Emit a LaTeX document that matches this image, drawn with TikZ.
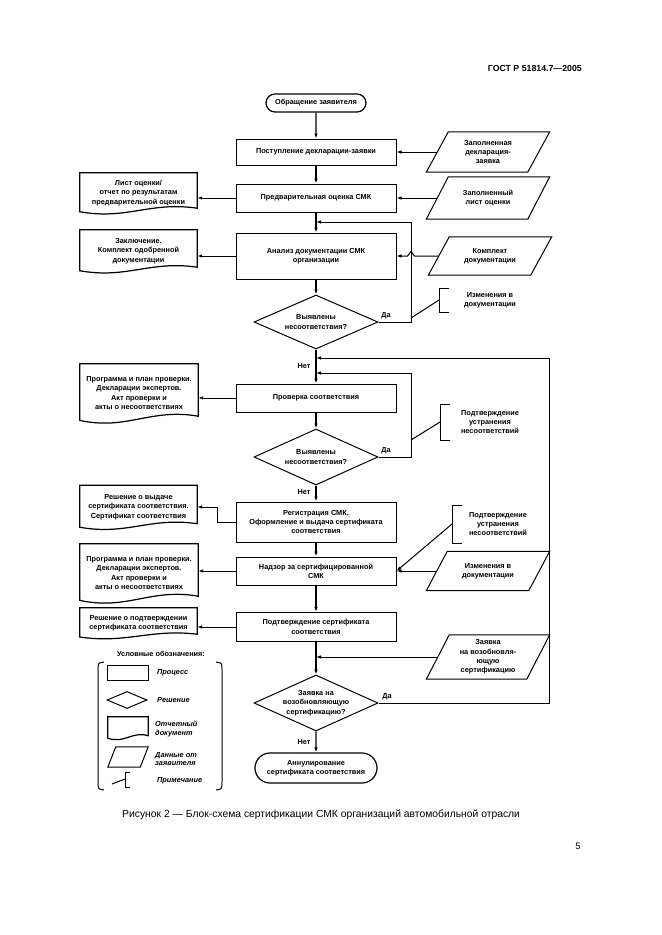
\documentclass[tikz,border=0pt]{standalone}
\usepackage{fontspec}
\setmainfont{Liberation Sans}
\usetikzlibrary{shapes.geometric,shapes.misc,arrows.meta,calc}
\newdimen\px \px=0.9006pt
\newcommand\docout[2]{\draw[docln] (#1.north west) -- (#1.north east) -- ($(#1.south east)+(0,-#2)$) .. controls ($(#1.south west)!0.6!(#1.south east)+(0,-2.4*#2)$) and ($(#1.south west)!0.4!(#1.south east)+(0,1.4*#2)$) .. ($(#1.south west)+(0,-0.3*#2)$) -- cycle;}
\newcommand\datout[2]{\draw[ln] (#1.south west) -- ($(#1.north west)+(#2,0)$) -- (#1.north east) -- ($(#1.south east)+(-#2,0)$) -- cycle;}
\begin{document}
\begin{tikzpicture}[x=0.9006pt,y=-0.9006pt,
 txt/.style={font=\fontsize{6.6}{8.4}\selectfont\bfseries, align=center, inner sep=0pt},
 ln/.style={line width=0.9pt},
 arr/.style={ln,-{Latex[length=4.5pt,width=3.2pt]}},
 mainarr/.style={arr,line width=1.2pt},
 proc/.style={txt,draw,ln,minimum width=160\px},
 term/.style={txt,draw,line width=1.1pt,rounded rectangle},
 dec/.style={txt,draw,ln,diamond,aspect=2.2,minimum width=124\px},
 dat/.style={txt,minimum width=123\px},
 docn/.style={txt},
 docln/.style={line width=1.1pt},
 leg/.style={font=\fontsize{6.6}{8}\selectfont\bfseries\itshape, align=left, inner sep=0pt, anchor=west},
]
\fill[white] (0,0) rectangle (661,935);
\useasboundingbox (0,0) rectangle (661,935);

% header, caption, page
\node[font=\fontsize{7.9}{10}\selectfont\bfseries, anchor=east, inner sep=0pt] (hdr) at (582,68) {ГОСТ Р 51814.7—2005};
\node[font=\fontsize{9.3}{11}\selectfont, anchor=west, inner sep=0pt] (cap) at (122,815) {Рисунок 2 — Блок-схема сертификации СМК организаций автомобильной отрасли};
\node[font=\fontsize{8.5}{10}\selectfont, inner sep=0pt] (pg) at (578,846) {5};

% main column
\node[term, minimum width=100\px, minimum height=18\px] (start) at (316,103) {Обращение заявителя};
\node[proc, minimum height=26\px] (p1) at (316,152) {Поступление декларации-заявки};
\node[proc, minimum height=28\px] (p2) at (316,198) {Предварительная оценка СМК};
\node[proc, minimum height=46\px] (p3) at (316,256) {Анализ документации СМК\\организации};
\node[dec, minimum height=54\px] (q1) at (316,322) {Выявлены\\несоответствия?};
\node[proc, minimum height=28\px] (p4) at (316,398) {Проверка соответствия};
\node[dec, minimum height=56\px] (q2) at (316,457) {Выявлены\\несоответствия?};
\node[proc, minimum height=40\px] (p5) at (316,522) {Регистрация СМК.\\Оформление и выдача сертификата\\соответствия};
\node[proc, minimum height=28\px] (p6) at (316,571) {Надзор за сертифицированной\\СМК};
\node[proc, minimum height=29\px] (p7) at (316,627) {Подтверждение сертификата\\соответствия};
\node[dec, minimum height=56\px] (q3) at (316,703) {Заявка на\\возобновляющую\\сертификацию?};
\node[term, minimum width=122\px, minimum height=30\px] (end) at (316,768) {Аннулирование\\сертификата соответствия};

\coordinate (j1) at (316,222);
\coordinate (j3) at (316,358);
\coordinate (j2) at (316,373);
\coordinate (j5) at (316,657);

\draw[mainarr] (start) -- (p1);
\draw[mainarr] (p1) -- (p2);
\draw[mainarr] (p2) -- (p3);
\draw[mainarr] (p3) -- (q1);
\draw[mainarr] (q1) -- (p4);
\draw[mainarr] (p4) -- (q2);
\draw[mainarr] (q2) -- (p5);
\draw[mainarr] (p5) -- (p6);
\draw[mainarr] (p6) -- (p7);
\draw[mainarr] (p7) -- (q3);
\draw[mainarr] (q3) -- (end);

% labels
\node[txt] (y1) at (386,316) {Да};
\node[txt] (n1) at (304,366) {Нет};
\node[txt] (y2) at (386,451) {Да};
\node[txt] (n2) at (304,492) {Нет};
\node[txt] (y3) at (387,697) {Да};
\node[txt] (n3) at (304,742) {Нет};

% loops
\draw[arr] (q1.east) -- ++(33,0) |- (j1);
\draw[arr] (q2.east) -- ++(33,0) |- (j2);
\draw[arr] (q3.east) -- ++(171,0) |- (j3);

% data (parallelograms)
\node[dat, minimum height=40\px] (da1) at (488,152) {Заполненная\\декларация-\\заявка};
\datout{da1}{22}
\node[dat, minimum height=42\px] (da2) at (488,198) {Заполненный\\лист оценки};
\datout{da2}{22}
\node[dat, minimum height=38\px] (da3) at (490,256) {Комплект\\документации};
\datout{da3}{21}
\node[dat, minimum height=39\px] (da4) at (488,571) {Изменения в\\документации};
\datout{da4}{21}
\node[dat, minimum height=44\px] (da5) at (488,657) {Заявка\\на возобновля-\\ющую\\сертификацию};
\datout{da5}{23}

\draw[arr] ($(da1.west)+(11,0)$) -- (p1.east);
\draw[arr] ($(da2.west)+(11,0)$) -- (p2.east);
\draw[arr] ($(da3.west)+(10,0)$) -- (414.5,256) -- (411,251.5) -- (407.5,256) -- (p3.east);
\draw[arr] ($(da4.west)+(10,0)$) -- (p6.east);
\draw[arr] ($(da5.west)+(11,0)$) -- (j5);

% documents
\node[docn, minimum width=117\px, minimum height=40\px] (doc1) at (138.5,193) {Лист оценки/\\отчет по результатам\\предварительной оценки};
\docout{doc1}{5}
\node[docn, minimum width=117\px, minimum height=42\px] (doc2) at (138.5,251) {Заключение.\\Комплект одобренной\\документации};
\docout{doc2}{5}
\node[docn, minimum width=118\px, minimum height=58\px] (doc3) at (139,393) {Программа и план проверки.\\Декларации экспертов.\\Акт проверки и\\акты о несоответствиях};
\docout{doc3}{6}
\node[docn, minimum width=117\px, minimum height=43\px] (doc4) at (138.5,507) {Решение о выдаче\\сертификата соответствия.\\Сертификат соответствия};
\docout{doc4}{5}
\node[docn, minimum width=118\px, minimum height=58\px] (doc5) at (139,573) {Программа и план проверки.\\Декларации экспертов.\\Акт проверки и\\акты о несоответствиях};
\docout{doc5}{6}
\node[docn, minimum width=117\px, minimum height=30\px] (doc6) at (138.5,623) {Решение о подтверждении\\сертификата соответствия};
\docout{doc6}{4}

\draw[arr] (p2.west) -- (p2.west -| doc1.east);
\draw[arr] (p3.west) -- (p3.west -| doc2.east);
\draw[arr] (p4.west) -- (p4.west -| doc3.east);
\draw[arr] (p5.west) -- ++(-18,0) |- (doc4.east);
\draw[arr] (p6.west) -- (p6.west -| doc5.east);
\draw[arr] (p7.west) -- (p7.west -| doc6.east);

% annotations
\node[txt] (an1) at (490,300) {Изменения в\\документации};
\node[txt] (an2) at (490,422) {Подтверждение\\устранения\\несоответствий};
\node[txt] (an3) at (498,524) {Подтверждение\\устранения\\несоответствий};
\coordinate (b1) at (439,300);
\coordinate (b2) at (440,422);
\coordinate (b3) at (452,524);
\coordinate (c1) at (411,318);
\coordinate (c2) at (411,440);
\draw[ln] ($(b1)+(10,-12)$) -- ($(b1)+(0,-12)$) -- ($(b1)+(0,12)$) -- ($(b1)+(10,12)$);
\draw[ln] ($(b2)+(10,-18)$) -- ($(b2)+(0,-18)$) -- ($(b2)+(0,18)$) -- ($(b2)+(10,18)$);
\draw[ln] ($(b3)+(10,-19)$) -- ($(b3)+(0,-19)$) -- ($(b3)+(0,19)$) -- ($(b3)+(10,19)$);
\draw[ln] (b1) -- (c1);
\draw[ln] (b2) -- (c2);
\draw[arr] (b3) -- (p6.east);

% legend
\node[txt] (legt) at (161,654) {Условные обозначения:};
\draw[ln] (104,662) .. controls (98,663) .. (98,670) -- (98,782) .. controls (98,789) .. (104,790);
\draw[ln] (216,662) .. controls (222,663) .. (222,670) -- (222,782) .. controls (222,789) .. (216,790);
\node[draw, ln, minimum width=41\px, minimum height=15\px] (lp) at (128,673) {};
\node[leg] (lpt) at (157,673) {Процесс};
\node[draw, ln, diamond, minimum width=40\px, minimum height=17\px, inner sep=0pt] (ld) at (127,700) {};
\node[leg] (ldt) at (157,700) {Решение};
\node[minimum width=40\px, minimum height=22\px, inner sep=0pt] (ldoc) at (128,728) {};
\docout{ldoc}{3.5}
\node[leg] (ldoct) at (155,729) {Отчетный\\документ};
\node[minimum width=40\px, minimum height=20\px, inner sep=0pt] (ldat) at (128,757) {};
\datout{ldat}{8}
\node[leg] (ldatt) at (155,759) {Данные от\\заявителя};
\coordinate (lna) at (112,784);
\coordinate (lnb) at (125,779);
\draw[ln] (lna) -- (lnb);
\draw[ln] (130,772) -- (125,772) -- (125,787) -- (130,787);
\node[leg] (lnt) at (157,781) {Примечание};
\end{tikzpicture}
\end{document}
